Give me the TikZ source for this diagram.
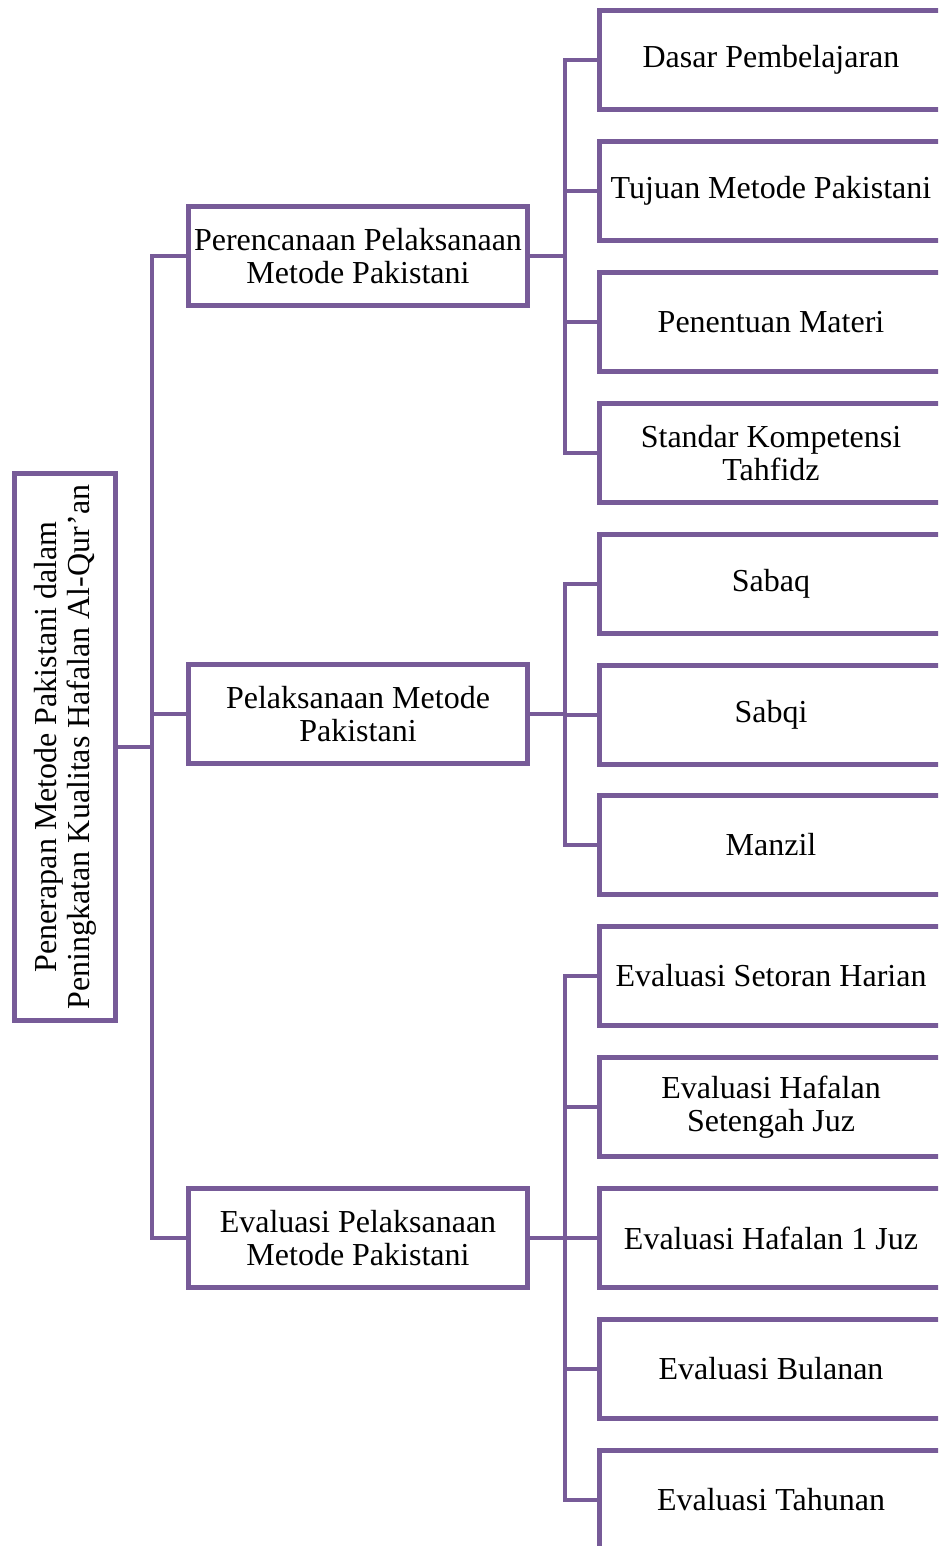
\documentclass[tikz,border=0pt]{standalone}
\usepackage{fontspec}
\setmainfont{Liberation Serif}
\usetikzlibrary{positioning}
\definecolor{ungu}{HTML}{775B98}

\begin{document}
\begin{tikzpicture}[x=0.375pt,y=-0.375pt,line width=1.8pt,
                    font=\fontsize{12}{12.3}\selectfont]
  \tikzstyle{box}=[rectangle,draw=ungu,fill=white,align=center,inner sep=2pt,
                   minimum width=127.2pt,minimum height=37.2pt]
  \tikzstyle{leaf}=[box,minimum width=128.6pt]
  \tikzstyle{rootbox}=[box,rotate=90,minimum width=205.2pt,minimum height=38pt]
  \tikzstyle{link}=[draw=ungu,line cap=rect]

  \useasboundingbox (0,0) rectangle (938,1546);
  \clip (0,0) rectangle (938,1546);

  \node[rootbox] (root) at (65,747)
    {Penerapan Metode Pakistani dalam\\Peningkatan Kualitas Hafalan Al-Qur’an};

  \node[box] (p1) at (358,256)  {Perencanaan Pelaksanaan\\Metode Pakistani};
  \node[box] (p2) at (358,714)  {Pelaksanaan Metode\\Pakistani};
  \node[box] (p3) at (358,1238) {Evaluasi Pelaksanaan\\Metode Pakistani};

  % perencanaan
  \node[leaf] (a1) at (771,60)  {Dasar Pembelajaran};
  \node[leaf] (a2) at (771,191) {Tujuan Metode Pakistani};
  \node[leaf] (a3) at (771,322) {Penentuan Materi};
  \node[leaf] (a4) at (771,453) {Standar Kompetensi\\Tahfidz};

  % pelaksanaan
  \node[leaf] (b1) at (771,584) {Sabaq};
  \node[leaf] (b2) at (771,715) {Sabqi};
  \node[leaf] (b3) at (771,845) {Manzil};

  % evaluasi
  \node[leaf] (c1) at (771,976)  {Evaluasi Setoran Harian};
  \node[leaf] (c2) at (771,1107) {Evaluasi Hafalan\\Setengah Juz};
  \node[leaf] (c3) at (771,1238) {Evaluasi Hafalan 1 Juz};
  \node[leaf] (c4) at (771,1369) {Evaluasi Bulanan};
  \node[leaf] (c5) at (771,1500) {Evaluasi Tahunan};

  \coordinate (s0) at (152,747);
  \coordinate (s1) at (565,256);
  \coordinate (s2) at (565,714);
  \coordinate (s3) at (565,1238);

  \draw[link] (root.south) -- (s0);
  \draw[link] (s0) |- (p1.west);
  \draw[link] (s0) |- (p2.west);
  \draw[link] (s0) |- (p3.west);

  \draw[link] (p1.east) -- (s1);
  \draw[link] (s1) |- (a1.west);
  \draw[link] (s1) |- (a2.west);
  \draw[link] (s1) |- (a3.west);
  \draw[link] (s1) |- (a4.west);

  \draw[link] (p2.east) -- (s2);
  \draw[link] (s2) |- (b1.west);
  \draw[link] (s2) |- (b2.west);
  \draw[link] (s2) |- (b3.west);

  \draw[link] (p3.east) -- (s3);
  \draw[link] (s3) |- (c1.west);
  \draw[link] (s3) |- (c2.west);
  \draw[link] (s3) |- (c3.west);
  \draw[link] (s3) |- (c4.west);
  \draw[link] (s3) |- (c5.west);
\end{tikzpicture}
\end{document}
